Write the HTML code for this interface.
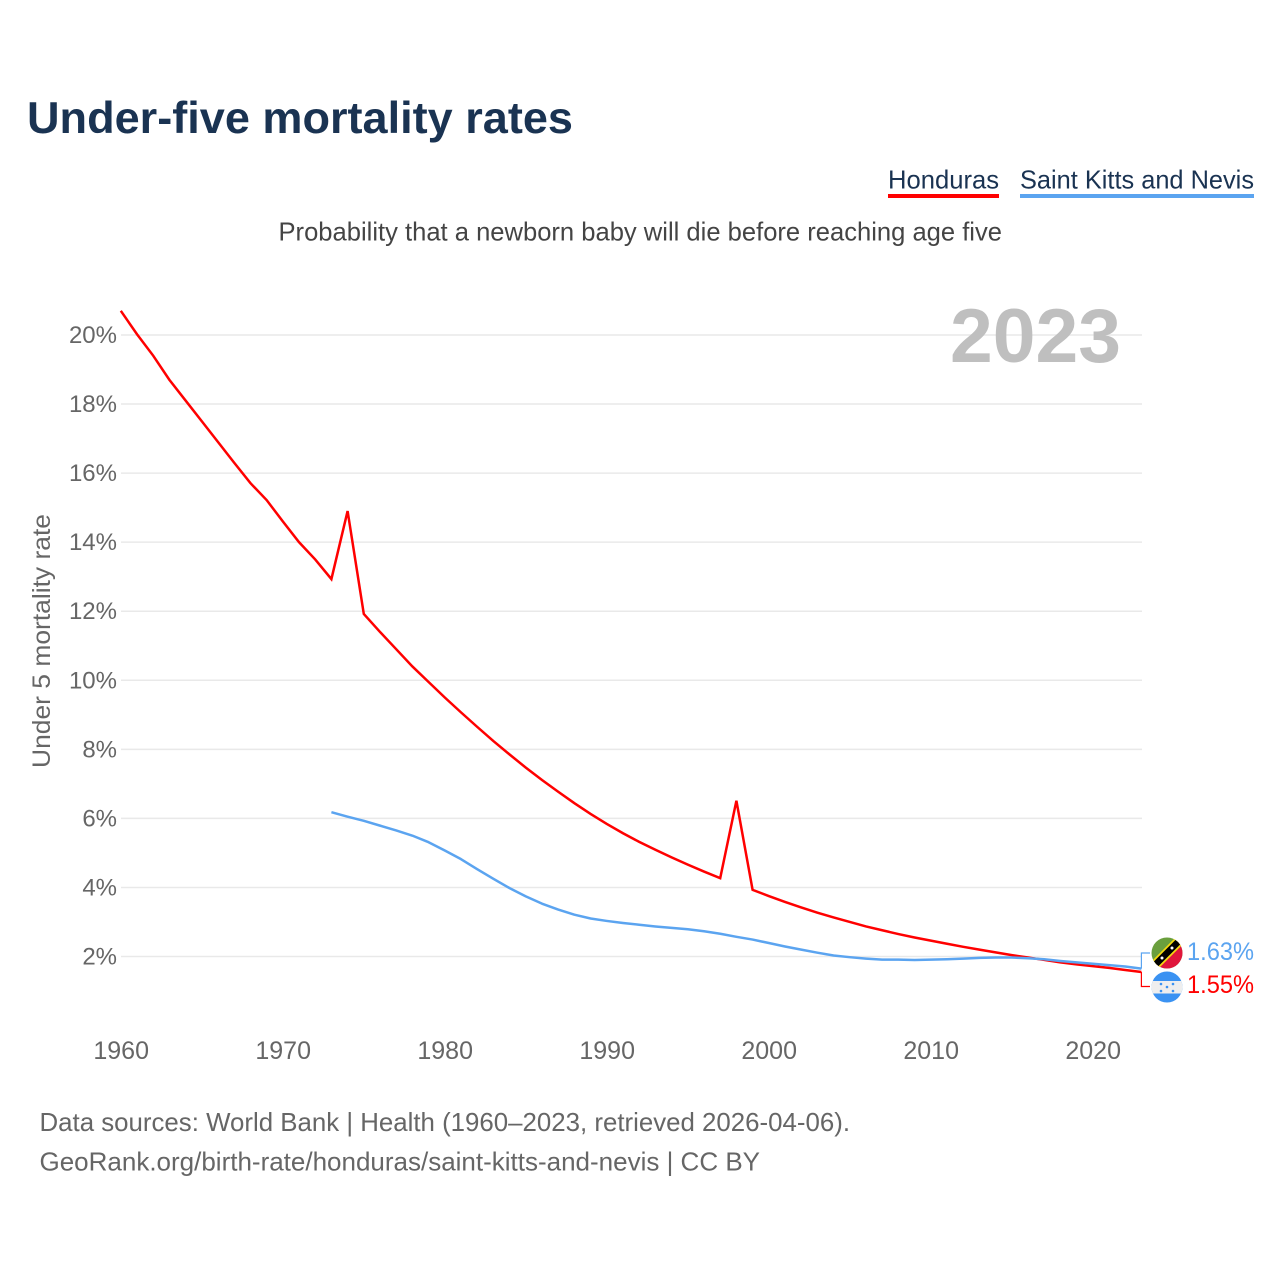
<!DOCTYPE html>
<html lang="en">
<head>
<meta charset="utf-8">
<title>Under-five mortality rates</title>
<style>
html,body{margin:0;padding:0;background:#fff;width:1280px;height:1280px;overflow:hidden}
svg{display:block}
text{font-family:"Liberation Sans",sans-serif}
</style>
</head>
<body>
<svg id="chart" width="1280" height="1280" viewBox="0 0 1280 1280" xmlns="http://www.w3.org/2000/svg">
  <defs>
    <clipPath id="clip-skn"><circle cx="1167" cy="953" r="15.5"/></clipPath>
    <clipPath id="clip-hnd"><circle cx="1167" cy="987" r="15.5"/></clipPath>
  </defs>
  <rect width="1280" height="1280" fill="#fff"/>
  <text x="27" y="133" font-size="44.5" font-weight="700" fill="#1a3352" textLength="546" lengthAdjust="spacingAndGlyphs">Under-five mortality rates</text>

  <g>
    <text x="888" y="188.5" font-size="26" fill="#1a3352" textLength="111" lengthAdjust="spacingAndGlyphs">Honduras</text>
    <rect x="888" y="194" width="111" height="4" fill="#ff0000"/>
  </g>
  <g>
    <text x="1020" y="188.5" font-size="26" fill="#1a3352" textLength="234" lengthAdjust="spacingAndGlyphs">Saint Kitts and Nevis</text>
    <rect x="1020" y="194" width="234" height="4" fill="#5ba4f0"/>
  </g>

  <text x="278.5" y="240.5" font-size="26" fill="#444" textLength="723.5" lengthAdjust="spacingAndGlyphs">Probability that a newborn baby will die before reaching age five</text>

  <g id="grid"></g>
  <g id="yticks"></g>
  <g id="xticks"></g>

  <text x="950" y="362" font-size="76" font-weight="700" fill="#bfbfbf" textLength="171" lengthAdjust="spacingAndGlyphs">2023</text>
  <text transform="translate(50,768) rotate(-90)" font-size="25" fill="#666" textLength="254" lengthAdjust="spacingAndGlyphs">Under 5 mortality rate</text>

  <g id="series"></g>
  <g id="connectors"></g>

  <g clip-path="url(#clip-skn)">
    <rect x="1150" y="936" width="34" height="34" fill="#6a9f3d"/>
    <polygon points="1184,936 1184,970 1150,970" fill="#e0163c"/>
    <line x1="1149" y1="971" x2="1185" y2="935" stroke="#f5d90f" stroke-width="10"/>
    <line x1="1149" y1="971" x2="1185" y2="935" stroke="#000" stroke-width="6.5"/>
    <circle cx="1162" cy="958" r="1.5" fill="#fff"/>
    <circle cx="1172" cy="948" r="1.5" fill="#fff"/>
  </g>
  <g clip-path="url(#clip-hnd)">
    <rect x="1150" y="970" width="34" height="34" fill="#3a92f2"/>
    <rect x="1150" y="981" width="34" height="12.5" fill="#eeeeee"/>
    <circle cx="1161" cy="984" r="1.3" fill="#3a92f2"/>
    <circle cx="1173" cy="984" r="1.3" fill="#3a92f2"/>
    <circle cx="1167" cy="987" r="1.3" fill="#3a92f2"/>
    <circle cx="1161" cy="991" r="1.3" fill="#3a92f2"/>
    <circle cx="1173" cy="991" r="1.3" fill="#3a92f2"/>
  </g>

  <text x="1187" y="960" font-size="25" fill="#5ba4f0" textLength="67" lengthAdjust="spacingAndGlyphs">1.63%</text>
  <text x="1187" y="993" font-size="25" fill="#ff0000" textLength="67" lengthAdjust="spacingAndGlyphs">1.55%</text>

  <text x="39.5" y="1131" font-size="26" fill="#666" textLength="810.5" lengthAdjust="spacingAndGlyphs">Data sources: World Bank | Health (1960–2023, retrieved 2026-04-06).</text>
  <text x="39.5" y="1170.5" font-size="26" fill="#666" textLength="720.5" lengthAdjust="spacingAndGlyphs">GeoRank.org/birth-rate/honduras/saint-kitts-and-nevis | CC BY</text>
</svg>
<script>
const years = [1960,1961,1962,1963,1964,1965,1966,1967,1968,1969,1970,1971,1972,1973,1974,1975,1976,1977,1978,1979,1980,1981,1982,1983,1984,1985,1986,1987,1988,1989,1990,1991,1992,1993,1994,1995,1996,1997,1998,1999,2000,2001,2002,2003,2004,2005,2006,2007,2008,2009,2010,2011,2012,2013,2014,2015,2016,2017,2018,2019,2020,2021,2022,2023];
const honduras = [20.7,20.02,19.4,18.7,18.1,17.5,16.9,16.3,15.71,15.22,14.6,14.0,13.5,12.93,14.9,11.92,11.4,10.9,10.4,9.95,9.5,9.07,8.65,8.24,7.85,7.47,7.11,6.77,6.44,6.13,5.84,5.57,5.32,5.09,4.87,4.66,4.46,4.27,6.51,3.93,3.75,3.58,3.42,3.27,3.13,3.0,2.87,2.76,2.65,2.55,2.46,2.37,2.28,2.2,2.12,2.04,1.97,1.9,1.83,1.77,1.72,1.67,1.61,1.55];
const saintKitts = [null,null,null,null,null,null,null,null,null,null,null,null,null,6.18,6.05,5.93,5.79,5.65,5.5,5.31,5.07,4.82,4.53,4.25,3.98,3.74,3.53,3.36,3.21,3.1,3.03,2.97,2.92,2.87,2.83,2.79,2.73,2.66,2.57,2.49,2.39,2.29,2.2,2.11,2.03,1.98,1.94,1.91,1.91,1.9,1.91,1.92,1.94,1.96,1.97,1.97,1.95,1.92,1.87,1.83,1.79,1.75,1.71,1.65];
const yTicks = [2,4,6,8,10,12,14,16,18,20];
const xTicks = [1960,1970,1980,1990,2000,2010,2020];

const NS = 'http://www.w3.org/2000/svg';
function xScale(year){ return 120.8 + (year - 1960) * 16.2; }
function yScale(v){ return 956.5 - (v - 2) * 34.53; }
function make(tag, attrs, parent){
  const el = document.createElementNS(NS, tag);
  for (const k in attrs) el.setAttribute(k, attrs[k]);
  parent.appendChild(el);
  return el;
}
const grid = document.getElementById('grid');
const yG = document.getElementById('yticks');
const xG = document.getElementById('xticks');
const seriesG = document.getElementById('series');
const connG = document.getElementById('connectors');

yTicks.forEach(function(t){
  const line = make('line', {x1:121, x2:1142, y1:yScale(t), y2:yScale(t), stroke:'#e9e9e9', 'stroke-width':1.5}, grid);
  
  
  const label = make('text', {x:117, y:yScale(t)+8, 'text-anchor':'end', 'font-size':24, fill:'#666'}, yG);
  
  
  label.textContent = t + '%';
});
xTicks.forEach(function(t){
  const label = make('text', {x:xScale(t)+0.4, y:1059, 'text-anchor':'middle', 'font-size':25, fill:'#666'}, xG);
  
  
  label.textContent = t;
});
function linePath(values){
  let d = '';
  values.forEach(function(v, i){
    if (v === null) return;
    d += (d ? 'L' : 'M') + xScale(years[i]).toFixed(2) + ' ' + yScale(v).toFixed(2);
  });
  return d;
}
const lineHonduras = make('path', {d:linePath(honduras), fill:'none', stroke:'#ff0000', 'stroke-width':2.5, 'stroke-linejoin':'miter'}, seriesG);


const lineKitts = make('path', {d:linePath(saintKitts), fill:'none', stroke:'#5ba4f0', 'stroke-width':2.5, 'stroke-linejoin':'round'}, seriesG);



const endX = xScale(years[years.length - 1]);
const connKitts = make('path', {d:'M'+endX+' '+yScale(saintKitts[saintKitts.length-1])+'V953H1150', fill:'none', stroke:'#5ba4f0', 'stroke-width':1.2}, connG);


const connHonduras = make('path', {d:'M'+endX+' '+yScale(honduras[honduras.length-1])+'V986.5H1150', fill:'none', stroke:'#ff0000', 'stroke-width':1.2}, connG);


</script>
</body>
</html>
